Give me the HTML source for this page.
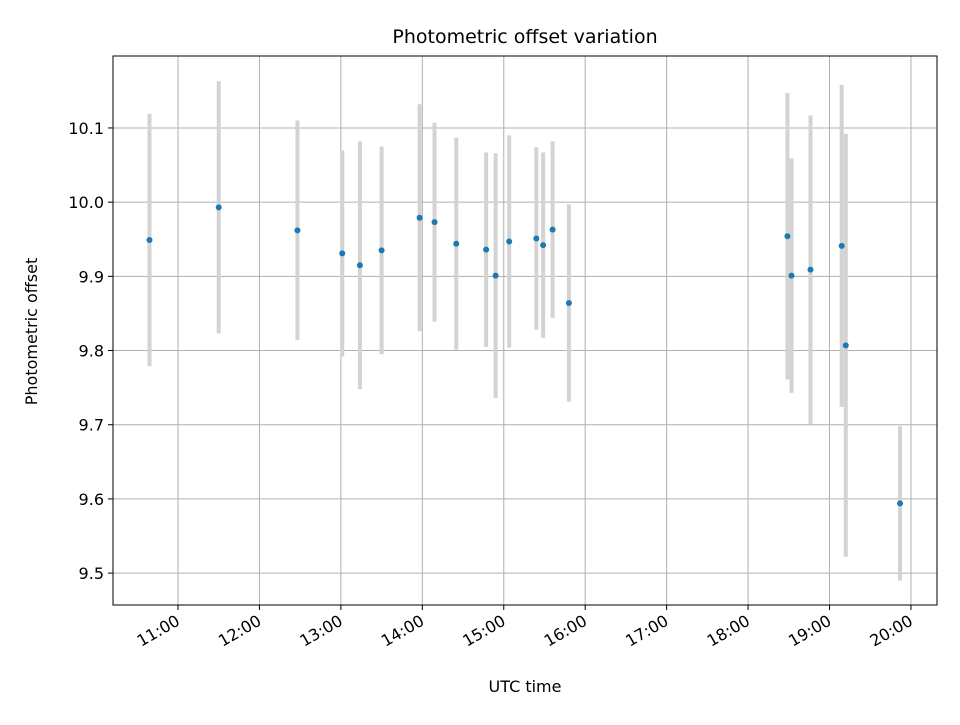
<!DOCTYPE html>
<html><head><meta charset="utf-8"><style>
body{margin:0;background:#fff;font-family:"Liberation Sans","DejaVu Sans",sans-serif;}
svg text{font-family:"DejaVu Sans","Liberation Sans",sans-serif;}
</style></head><body>
<svg id="chart" width="960" height="720" xmlns="http://www.w3.org/2000/svg">
<rect width="960" height="720" fill="#fff"/>
<g id="grid"></g><g id="errs"></g><g id="pts"></g><g id="axes"></g>
</svg>
<script>
const times=["10:39","11:30","12:28","13:01","13:14","13:30","13:58","14:09","14:25","14:47","14:54","15:04","15:24","15:29","15:36","15:48","18:29","18:32","18:46","19:09","19:12","19:52"];
const offsets=[9.949,9.993,9.962,9.931,9.915,9.935,9.979,9.973,9.944,9.936,9.901,9.947,9.951,9.942,9.963,9.864,9.954,9.901,9.909,9.941,9.807,9.594];
const errors=[0.170,0.170,0.148,0.139,0.167,0.140,0.153,0.134,0.143,0.131,0.165,0.143,0.123,0.125,0.119,0.133,0.193,0.158,0.208,0.217,0.285,0.104];
const yTicks=[9.5,9.6,9.7,9.8,9.9,10.0,10.1];
const xTicks=["11:00","12:00","13:00","14:00","15:00","16:00","17:00","18:00","19:00","20:00"];
const L=113,R=937,T=56,B=605;
const xMin=10+12.1/60,xMax=20+19.2/60,yMin=9.457,yMax=10.197;
const toH=s=>{const p=s.split(':');return +p[0]+ +p[1]/60;};
const X=h=>L+(h-xMin)/(xMax-xMin)*(R-L);
const Y=v=>B-(v-yMin)/(yMax-yMin)*(B-T);
const NS="http://www.w3.org/2000/svg";
function mk(tag,attrs,parent,txt){const e=document.createElementNS(NS,tag);for(const k in attrs)e.setAttribute(k,attrs[k]);if(txt!==undefined)e.textContent=txt;parent.appendChild(e);return e;}
const grid=document.getElementById('grid'),errs=document.getElementById('errs'),pts=document.getElementById('pts'),axes=document.getElementById('axes');
yTicks.forEach(v=>{const y=Y(v);
 const g=mk('line',{x1:L,x2:R,y1:y,y2:y,stroke:'#b0b0b0','stroke-width':1},grid);
 
 mk('line',{x1:L-5,x2:L,y1:y,y2:y,stroke:'#000'},axes);
 const t=mk('text',{x:L-9,y:y+6,'text-anchor':'end','font-size':16},axes,v.toFixed(1));
 
});
xTicks.forEach(s=>{const x=X(toH(s));
 const g=mk('line',{x1:x,x2:x,y1:T,y2:B,stroke:'#b0b0b0','stroke-width':1},grid);
 
 mk('line',{x1:x,x2:x,y1:B,y2:B+5,stroke:'#000'},axes);
 const tx=x+3,ty=B+19;
 const t=mk('text',{x:tx,y:ty,'text-anchor':'end','font-size':16,transform:`rotate(-30 ${tx} ${ty})`},axes,s);
 
});
times.forEach((s,i)=>{const x=X(toH(s));
 const e=mk('line',{x1:x,x2:x,y1:Y(offsets[i]+errors[i]),y2:Y(offsets[i]-errors[i]),stroke:'#d3d3d3','stroke-width':4},errs);
 
 const c=mk('circle',{cx:x,cy:Y(offsets[i]),r:3,fill:'#1f77b4'},pts);
 
});
const fr=mk('rect',{x:L,y:T,width:R-L,height:B-T,fill:'none',stroke:'#000','stroke-width':1},axes);

const ti=mk('text',{x:(L+R)/2,y:43,'text-anchor':'middle','font-size':19},axes,'Photometric offset variation');

const xl=mk('text',{x:(L+R)/2,y:692,'text-anchor':'middle','font-size':16},axes,'UTC time');

const yl=mk('text',{x:37,y:(T+B)/2+1,'text-anchor':'middle','font-size':16,transform:`rotate(-90 37 ${(T+B)/2+1})`},axes,'Photometric offset');

</script>
</body></html>
